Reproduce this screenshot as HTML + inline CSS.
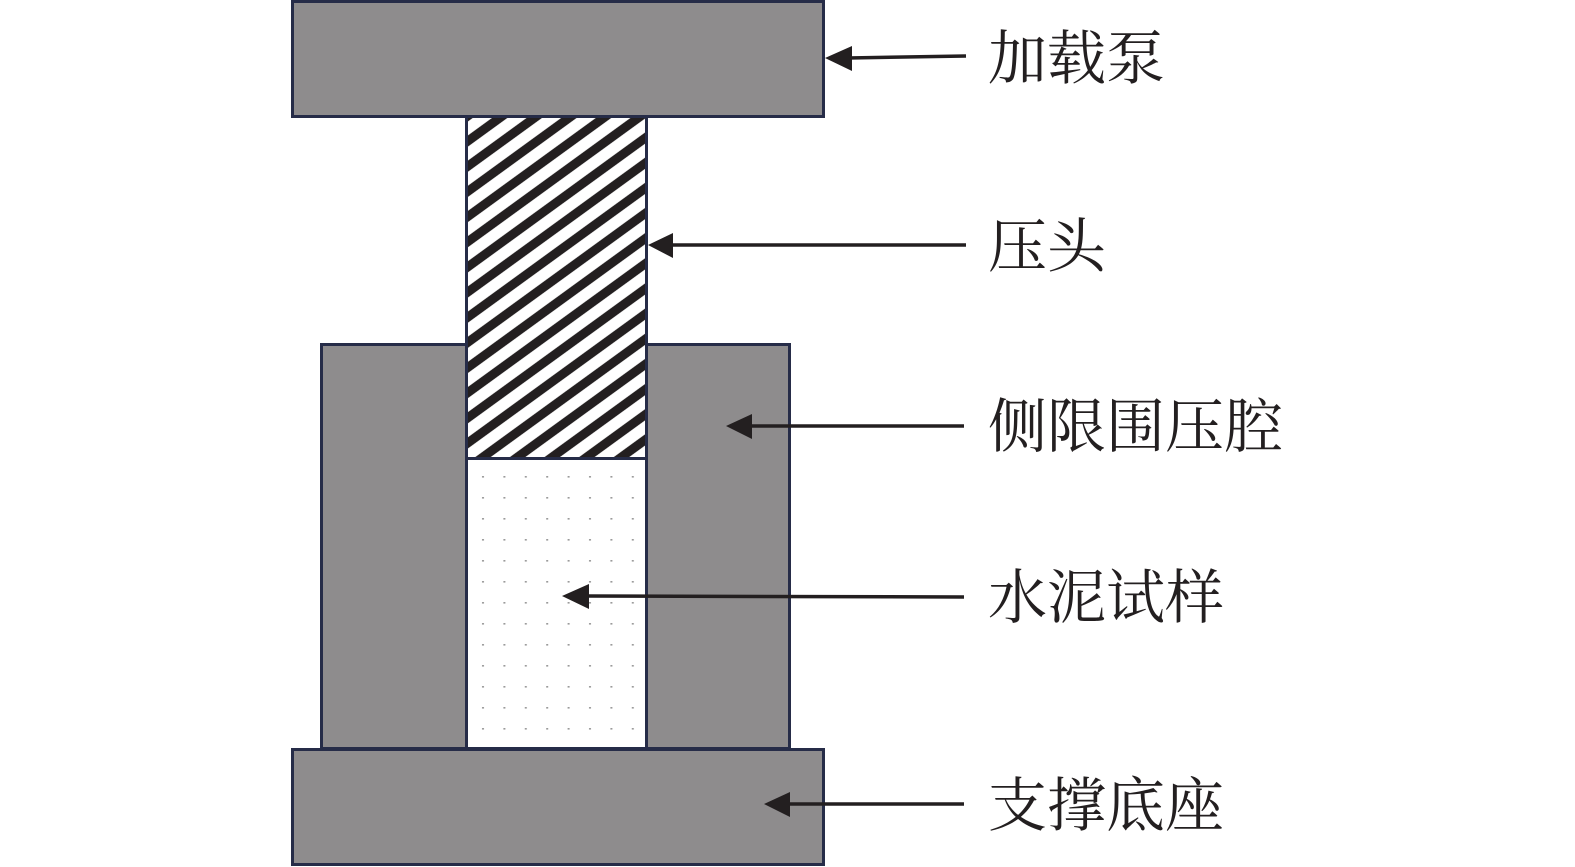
<!DOCTYPE html>
<html>
<head>
<meta charset="utf-8">
<style>
  html,body{margin:0;padding:0;background:#fff;}
  body{width:1575px;height:867px;overflow:hidden;}
  svg{display:block;}
  text{font-family:"Liberation Serif","Noto Serif CJK SC","Noto Sans CJK SC",serif;font-size:59px;fill:#231f20;}
</style>
</head>
<body>
<svg width="1575" height="867" viewBox="0 0 1575 867" xmlns="http://www.w3.org/2000/svg">
  <defs>
    <pattern id="hatch" patternUnits="userSpaceOnUse" width="20.35" height="20.35" patternTransform="rotate(-36)">
      <rect x="0" y="0" width="20.35" height="20.35" fill="#ffffff"/>
      <rect x="0" y="0" width="20.35" height="7" fill="#231f20"/>
      <rect x="0" y="18.3" width="20.35" height="2.1" fill="#231f20"/>
    </pattern>
    <pattern id="dots" patternUnits="userSpaceOnUse" x="472" y="466" width="21.4" height="21">
      <rect x="0" y="0" width="21.4" height="21" fill="#ffffff"/>
      <rect x="10" y="10" width="2" height="1.6" fill="#9a9a9a"/>
    </pattern>
  </defs>

  <!-- top plate -->
  <rect x="292.5" y="1.5" width="531" height="115" fill="#8e8c8d" stroke="#262c48" stroke-width="3"/>

  <!-- side chamber blocks -->
  <rect x="321.5" y="344.5" width="145" height="404" fill="#8e8c8d" stroke="#262c48" stroke-width="3"/>
  <rect x="646.5" y="344.5" width="143" height="404" fill="#8e8c8d" stroke="#262c48" stroke-width="3"/>

  <!-- cement sample -->
  <rect x="466.5" y="458.5" width="180" height="290" fill="url(#dots)" stroke="#262c48" stroke-width="3"/>

  <!-- pressure head -->
  <rect x="466.5" y="116.5" width="180" height="342" fill="url(#hatch)" stroke="#262c48" stroke-width="3"/>

  <!-- bottom plate -->
  <rect x="292.5" y="749.5" width="531" height="115" fill="#8e8c8d" stroke="#262c48" stroke-width="3"/>

  <!-- arrows -->
  <g stroke="#231f20" stroke-width="3.5" fill="none">
    <line x1="848" y1="58" x2="966" y2="56"/>
    <line x1="670" y1="245" x2="966" y2="245"/>
    <line x1="748" y1="426" x2="964" y2="426"/>
    <line x1="585" y1="596" x2="964" y2="597"/>
    <line x1="786" y1="804" x2="964" y2="804"/>
  </g>
  <g fill="#231f20">
    <polygon points="825,58 852,46 852,71"/>
    <polygon points="648,245 673,233 673,258"/>
    <polygon points="726,426 752,414 752,439"/>
    <polygon points="562,596 589,584 589,609"/>
    <polygon points="764,804 790,792 790,817"/>
  </g>

  <!-- labels -->
  <text x="988" y="79">加载泵</text>
  <text x="988" y="267">压头</text>
  <text x="988" y="447">侧限围压腔</text>
  <text x="988" y="618">水泥试样</text>
  <text x="988" y="826">支撑底座</text>
</svg>
</body>
</html>
